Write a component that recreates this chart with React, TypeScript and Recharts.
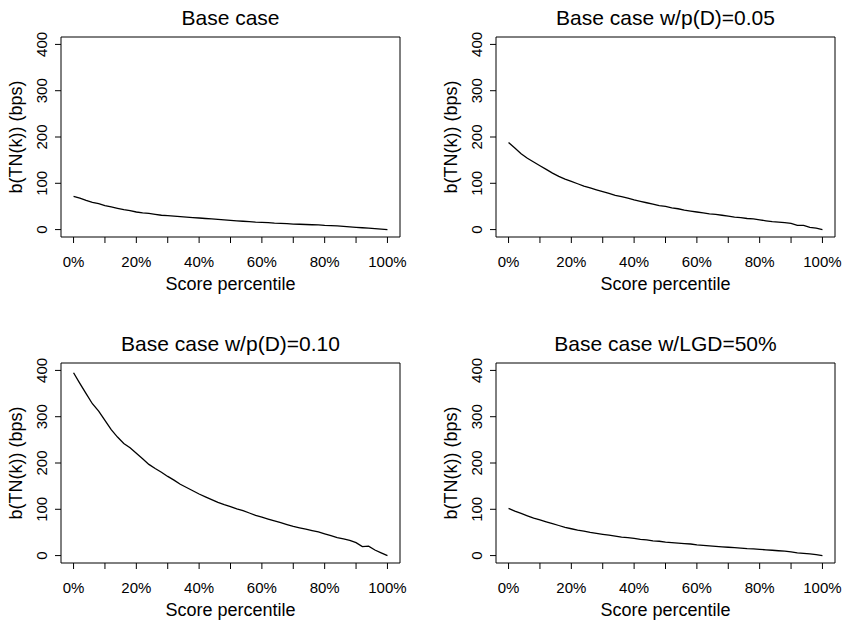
import { Line, LineChart, ReferenceArea, XAxis, YAxis } from 'recharts';

// score percentile (x), shared by all four panels
const pct = [
  0, 2, 4, 6, 8, 10, 12, 14, 16, 18, 20, 22, 24, 26, 28, 30, 32, 34, 36, 38, 40, 42, 44, 46, 48, 50,
  52, 54, 56, 58, 60, 62, 64, 66, 68, 70, 72, 74, 76, 78, 80, 82, 84, 86, 88, 90, 92, 94, 96, 98, 100,
];

// b(TN(k)) in bps
const baseCase = [
  72, 68, 63, 59, 56, 52, 49, 46, 43, 41, 38, 36, 35, 33, 31, 30, 29, 28, 27, 26, 25, 24, 23, 22, 21, 20,
  19, 18, 17, 16, 15.5, 15, 14, 13.5, 13, 12, 11.5, 11, 10.5, 10, 9, 8.5, 8, 7, 6, 5, 4, 3, 2, 1, 0,
];
const pd005 = [
  188, 176, 164, 154, 146, 138, 130, 122, 115, 109, 104, 99, 94, 90, 86, 82, 78, 74, 71, 68, 64, 61, 58, 55, 52, 50,
  47, 45, 42, 40, 38, 36, 34, 33, 31, 29, 27, 26, 24, 23, 21, 19, 17, 16, 15, 13.5, 9, 9, 5, 3, 0,
];
const pd010 = [
  395, 372, 350, 328, 312, 292, 272, 256, 242, 233, 221, 209, 197, 188, 180, 171, 163, 154, 147, 140, 133, 127, 121, 115, 110, 106,
  101, 97, 92, 87, 83, 79, 75, 71, 67, 63, 60, 57, 54, 51, 47, 43, 39, 36, 33, 28, 19.5, 20.5, 12, 6, 0,
];
const lgd50 = [
  102, 96, 91, 86, 81, 77, 73, 69, 65, 61, 58, 55, 53, 50, 48, 46, 44, 42, 40, 39, 37, 35, 34, 32, 31, 29,
  28, 27, 26, 25, 23, 22, 21, 20, 19, 18, 17, 16, 15, 14.5, 13.5, 12.5, 11.5, 10.5, 9.5, 8, 6, 5, 3.5, 2, 0,
];

const xTicks = [0, 10, 20, 30, 40, 50, 60, 70, 80, 90, 100];
const yTicks = [0, 100, 200, 300, 400];

const titles = ['Base case', 'Base case w/p(D)=0.05', 'Base case w/p(D)=0.10', 'Base case w/LGD=50%'];
const seriesList = [baseCase, pd005, pd010, lgd50];

const FONT = '"Liberation Sans", Arial, Helvetica, sans-serif';
const W = 411;
const H = 295;
const LEFT = 61;
const TOP = 37;
const PW = 339;
const PH = 200;

const XTick = (props: any) => {
  const { x, y, payload } = props;
  if (payload.value % 20 !== 0) return null;
  return (
    <text x={x} y={y + 19} dy="0.36em" textAnchor="middle" fontSize={15} fill="#000" fontFamily={FONT}>
      {payload.value + '%'}
    </text>
  );
};

const YTick = (props: any) => {
  const { x, y, payload } = props;
  return (
    <text
      transform={`translate(${x - 13.5},${y}) rotate(-90)`}
      dy="0.36em"
      textAnchor="middle"
      fontSize={15}
      fill="#000"
      fontFamily={FONT}
    >
      {payload.value}
    </text>
  );
};

function Panel({ title, values }: { title: string; values: number[] }) {
  const data = pct.map((p, i) => ({ pct: p, v: values[i] }));
  return (
    <LineChart
      width={W}
      height={H}
      data={data}
      style={{ overflow: 'visible' }}
      margin={{ top: TOP, right: W - LEFT - PW, bottom: 0, left: 0 }}
    >
      <XAxis
        type="number"
        dataKey="pct"
        domain={[-4, 104]}
        ticks={xTicks}
        allowDataOverflow
        axisLine={false}
        tickLine={{ stroke: '#000' }}
        tickSize={6}
        tickMargin={0}
        tick={<XTick />}
        height={H - TOP - PH}
      />
      <YAxis
        type="number"
        domain={[-16, 416]}
        ticks={yTicks}
        allowDataOverflow
        axisLine={false}
        tickLine={{ stroke: '#000' }}
        tickSize={6}
        tickMargin={0}
        tick={<YTick />}
        width={LEFT}
      />
      <ReferenceArea x1={-4} x2={104} y1={-16} y2={416} fill="none" stroke="#000" strokeWidth={1} ifOverflow="visible" />
      <Line type="linear" dataKey="v" stroke="#000" strokeWidth={1.3} dot={false} isAnimationActive={false} />
      <text x={LEFT + PW / 2} y={17} dy="0.36em" textAnchor="middle" fontSize={21} fill="#000" fontFamily={FONT}>
        {title}
      </text>
      <text x={LEFT + PW / 2} y={TOP + PH + 53} textAnchor="middle" fontSize={18} fill="#000" fontFamily={FONT}>
        Score percentile
      </text>
      <text
        transform={`translate(15.5,${TOP + PH / 2}) rotate(-90)`}
        dy="0.36em"
        textAnchor="middle"
        fontSize={18}
        fill="#000"
        fontFamily={FONT}
      >
        b(TN(k)) (bps)
      </text>
    </LineChart>
  );
}

export default function App() {
  return (
    <div style={{ position: 'absolute', left: 0, top: 0, width: 846, height: 621, background: '#fff' }}>
      {titles.map((t, i) => (
        <div key={t} style={{ position: 'absolute', left: (i % 2) * 435, top: Math.floor(i / 2) * 326 }}>
          <Panel title={t} values={seriesList[i]} />
        </div>
      ))}
    </div>
  );
}
